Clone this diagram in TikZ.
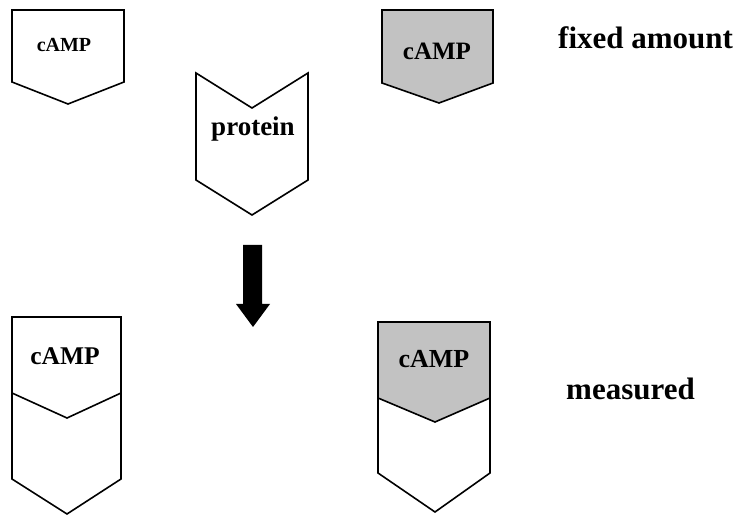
\documentclass[tikz,border=0pt]{standalone}
\usepackage{fontspec}
\setmainfont{Liberation Serif}
\begin{document}
\begin{tikzpicture}[x=1pt,y=-1pt,
  outline/.style={draw=black,line width=1.6pt,line join=miter},
  stipple/.style={fill=black!24},
  lbl/.style={inner sep=0pt,anchor=base,font=\bfseries},
  side/.style={inner sep=0pt,anchor=base west,font=\bfseries\fontsize{31}{36}\selectfont}]
\fill[white] (0,0) rectangle (742,518);
\useasboundingbox (0,0) rectangle (742,518);
% top-left cAMP
\draw[outline,fill=white] (12,10) -- (124,10) -- (124,82) -- (68,104) -- (12,82) -- cycle;
\node[lbl,font=\bfseries\fontsize{20}{24}\selectfont] (tlc) at (64,52) {cAMP};
% protein
\draw[outline,fill=white] (196,73) -- (252,108) -- (308,73) -- (308,180) -- (252,215) -- (196,180) -- cycle;
\node[lbl,font=\bfseries\fontsize{27}{30}\selectfont] (prot) at (253,136) {protein};
% top-right cAMP (fixed amount)
\draw[outline,stipple] (382,10) -- (493,10) -- (493,83) -- (439,103) -- (382,83) -- cycle;
\node[lbl,font=\bfseries\fontsize{25}{30}\selectfont] (trc) at (437,60) {cAMP};
\node[side] (fixed) at (558,49) {fixed amount};
% arrow
\fill[black] (243,245) -- (262,245) -- (262,304) -- (270,304) -- (253,327) -- (236,304) -- (243,304) -- cycle;
% bottom-left
\draw[outline,fill=white] (12,317) -- (121,317) -- (121,479) -- (67,514) -- (12,479) -- cycle;
\draw[outline] (12,393) -- (67,418) -- (121,393);
\node[lbl,font=\bfseries\fontsize{25.5}{30}\selectfont] (blc) at (65,365) {cAMP};
% bottom-right
\draw[outline,stipple] (378,322) -- (490,322) -- (490,398) -- (435,422) -- (378,398) -- cycle;
\draw[outline] (378,322) -- (490,322) -- (490,473) -- (435,512) -- (378,473) -- cycle;
\node[lbl,font=\bfseries\fontsize{26}{30}\selectfont] (brc) at (434,368) {cAMP};
\node[side] (meas) at (566,400) {measured};
\end{tikzpicture}
\end{document}
